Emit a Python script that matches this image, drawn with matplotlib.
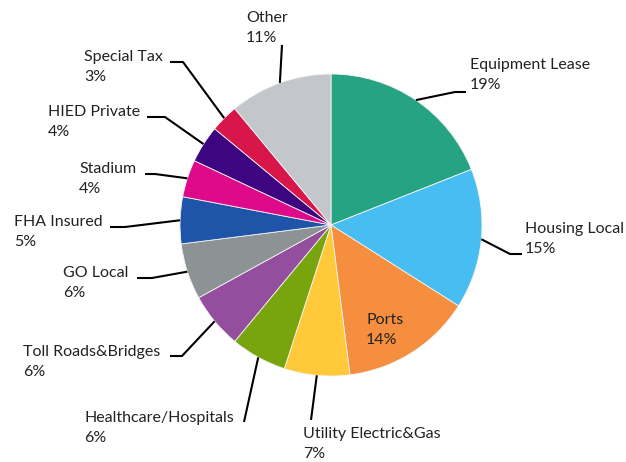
import numpy as np
import matplotlib.pyplot as plt

# sector shares, clockwise from 12 o'clock
sectors = ["Equipment Lease", "Housing Local", "Ports", "Utility Electric&Gas",
           "Healthcare/Hospitals", "Toll Roads&Bridges", "GO Local", "FHA Insured",
           "Stadium", "HIED Private", "Special Tax", "Other"]
shares = [19, 15, 14, 7, 6, 6, 6, 5, 4, 4, 3, 11]
colors = ["#26A383", "#47BDF2", "#F58F3F", "#FFC93A", "#78A50D", "#944E9E",
          "#8D9295", "#1F55A8", "#DE0A8A", "#3D0680", "#D9164A", "#C3C7CB"]

W, H = 626, 462
CX, CY, R = 331, 225, 151

# label layout in pixel coords: text x, text centre y, leader elbow, leader end
label_pos = {
    "Equipment Lease": (470, 75, (455, 92), (466, 92)),
    "Housing Local": (525, 239, (510, 254), (522, 254)),
    "Ports": (366, 330, None, None),
    "Utility Electric&Gas": (303, 444, None, (311, 420)),
    "Healthcare/Hospitals": (84, 428, None, (244, 422)),
    "Toll Roads&Bridges": (23, 362, (182, 356), (170, 356)),
    "GO Local": (63, 283, (152, 278), (137, 278)),
    "FHA Insured": (14, 232, (125, 227), (110, 227)),
    "Stadium": (79, 179, (155, 174), (145, 174)),
    "HIED Private": (48, 122, (165, 117), (147, 117)),
    "Special Tax": (84, 67, (183, 62), (170, 62)),
    "Other": (246, 28, None, (282, 45)),
}


def main():
    plt.rcParams["font.family"] = ["Lato", "DejaVu Sans"]
    fig = plt.figure(figsize=(W / 100, H / 100), dpi=100)
    ax = fig.add_axes([0, 0, 1, 1])

    ax.pie(shares, colors=colors, startangle=90, counterclock=False,
           center=(CX, H - CY), radius=R,
           wedgeprops=dict(linewidth=0.6, edgecolor="#f4f4f4"))

    # mid angle of each wedge, for the leader start points
    cum = np.cumsum([0] + shares)
    total = float(sum(shares))
    for i, name in enumerate(sectors):
        mid = np.deg2rad(90 - 360 * (cum[i] + cum[i + 1]) / 2 / total)
        tx, ty, elbow, end = label_pos[name]
        if end is not None:
            sx = CX + R * np.cos(mid)
            sy = (H - CY) + R * np.sin(mid)
            pts = [(sx, sy)]
            if elbow is not None:
                pts.append((elbow[0], H - elbow[1]))
            pts.append((end[0], H - end[1]))
            xs, ys = zip(*pts)
            ax.plot(xs, ys, color="black", lw=1.5, solid_capstyle="butt")
        ax.text(tx, H - ty, f"{name}\n{shares[i]}%", ha="left", va="center",
                ma="left", fontsize=11.5, color="#222222", linespacing=1.62)

    ax.set_xlim(0, W)
    ax.set_ylim(0, H)
    ax.set_aspect("equal")
    ax.axis("off")
    fig.savefig("out.png", dpi=100)


if __name__ == "__main__":
    main()
